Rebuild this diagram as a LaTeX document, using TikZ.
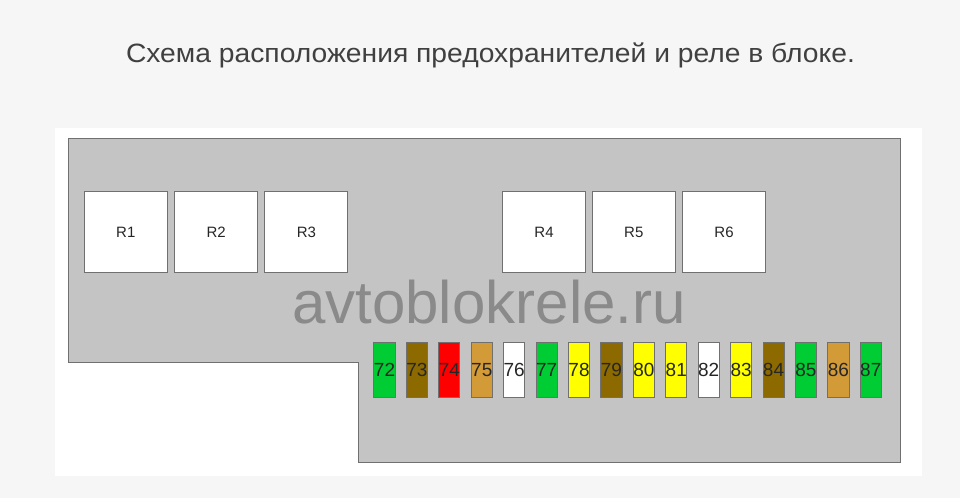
\documentclass[tikz,border=0pt]{standalone}
\usepackage{fontspec}
\setmainfont{Liberation Sans}
\begin{document}
\begin{tikzpicture}[x=1pt,y=-1pt,
  relay/.style={draw=boxline,fill=white,line width=0.9pt,minimum width=83pt,minimum height=80.5pt,inner sep=0pt,font=\fontsize{15}{15}\selectfont,text=black!85},
  fuse/.style={draw=boxline,line width=0.9pt,minimum width=21pt,minimum height=54.3pt,inner sep=0pt,font=\fontsize{19}{19}\selectfont,text=black!85}]
\definecolor{pagebg}{HTML}{F6F6F6}
\definecolor{blockgray}{HTML}{C4C4C4}
\definecolor{boxline}{HTML}{707070}
\definecolor{fgreen}{HTML}{00CC33}
\definecolor{fbrown}{HTML}{8C6A00}
\definecolor{fred}{HTML}{FF0000}
\definecolor{ftan}{HTML}{D39A38}
\definecolor{fyellow}{HTML}{FFFF00}
\definecolor{titlecol}{HTML}{404040}
\definecolor{markcol}{HTML}{8A8A8A}
\useasboundingbox (0,0) rectangle (960,498);
\fill[pagebg] (0,0) rectangle (960,498);
\fill[white] (55,128) rectangle (922,476);
\draw[boxline,fill=blockgray,line width=1pt] (68,138) -- (900,138) -- (900,462.7) -- (358.5,462.7) -- (358.5,362) -- (68,362) -- cycle;
\node[anchor=base,text=titlecol,font=\fontsize{26.5}{26.5}\selectfont,xscale=1.066,transform shape] (title) at (490.5,62) {Схема расположения предохранителей и реле в блоке.};
\node[anchor=base,text=markcol,font=\fontsize{60}{60}\selectfont] (mark) at (489,323) {avtoblokrele.ru};
\node[relay] (r1) at (125.8,232) {R1};
\node[relay] (r2) at (216.2,232) {R2};
\node[relay] (r3) at (306.4,232) {R3};
\node[relay] (r4) at (544,232) {R4};
\node[relay] (r5) at (633.8,232) {R5};
\node[relay] (r6) at (724,232) {R6};
\foreach \n/\c [count=\i from 0] in {72/fgreen,73/fbrown,74/fred,75/ftan,76/white,77/fgreen,78/fyellow,79/fbrown,80/fyellow,81/fyellow,82/white,83/fyellow,84/fbrown,85/fgreen,86/ftan,87/fgreen}{
  \node[fuse,fill=\c] (f\n) at ({384.5+32.42*\i},369.9) {\n};
}
\end{tikzpicture}
\end{document}
